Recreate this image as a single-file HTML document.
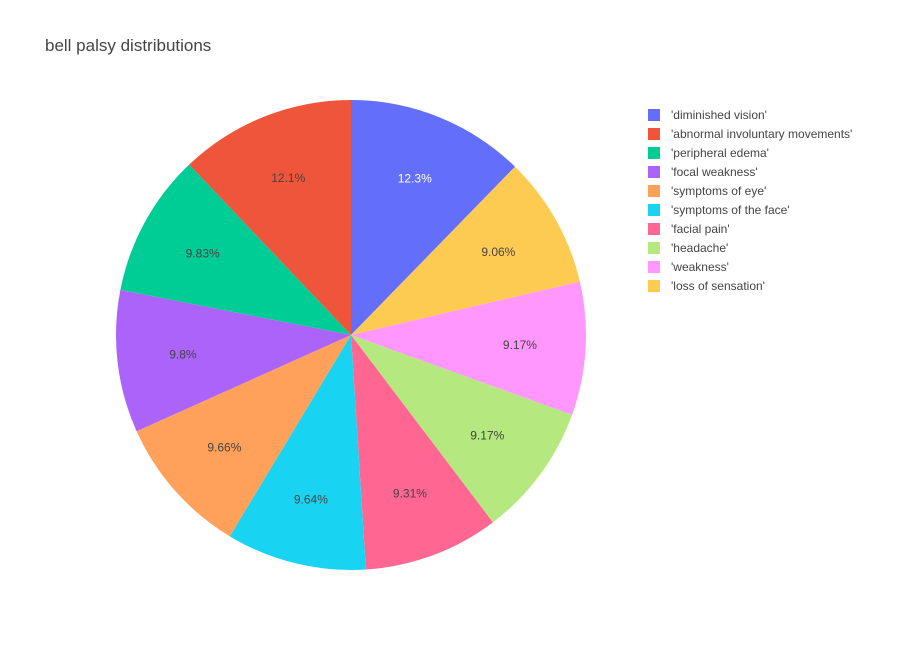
<!DOCTYPE html>
<html><head><meta charset="utf-8"><style>
body{margin:0;background:#fff;font-family:"Liberation Sans",sans-serif;}
svg text{font-family:"Liberation Sans",sans-serif;}
</style></head><body>
<svg id="chart" width="900" height="650">
<rect width="900" height="650" fill="#fff"></rect>
<text x="45" y="51" font-size="17" fill="#444">bell palsy distributions</text>
<g id="slices"></g>
<g id="legend"></g>
</svg>
<script>
const legendLabels=["'diminished vision'","'abnormal involuntary movements'","'peripheral edema'","'focal weakness'","'symptoms of eye'","'symptoms of the face'","'facial pain'","'headache'","'weakness'","'loss of sensation'"];
const legendColors=["#636efa","#EF553B","#00cc96","#ab63fa","#FFA15A","#19d3f3","#FF6692","#B6E880","#FF97FF","#FECB52"];
// clockwise from top
const sliceIndex=[0,9,8,7,6,5,4,3,2,1];
const sliceValues=[12.3,9.06,9.17,9.17,9.31,9.64,9.66,9.8,9.83,12.1];
const sliceText=["12.3%","9.06%","9.17%","9.17%","9.31%","9.64%","9.66%","9.8%","9.83%","12.1%"];
const NS="http://www.w3.org/2000/svg";
const cx=351,cy=335,r=235;
const total=sliceValues.reduce((a,b)=>a+b,0);
const sg=document.getElementById('slices');
let a0=0;
function pt(a,rr){return [cx+rr*Math.sin(a),cy-rr*Math.cos(a)];}
sliceValues.forEach((v,i)=>{
  const a1=a0+v/total*2*Math.PI;
  const p0=pt(a0,r),p1=pt(a1,r);
  const path=document.createElementNS(NS,'path');
  path.setAttribute('d',`M${cx},${cy}L${p0[0]},${p0[1]}A${r},${r} 0 ${a1-a0>Math.PI?1:0} 1 ${p1[0]},${p1[1]}Z`);
  path.setAttribute('fill',legendColors[sliceIndex[i]]);
  path.setAttribute('stroke','#fff');path.setAttribute('stroke-width','0');
  
  
  sg.appendChild(path);
  const m=pt((a0+a1)/2,r*0.72);
  const t=document.createElementNS(NS,'text');
  t.setAttribute('x',m[0]);t.setAttribute('y',m[1]+4);
  t.setAttribute('text-anchor','middle');t.setAttribute('font-size','12');
  t.setAttribute('fill',sliceIndex[i]===0?'#fff':'#444');
  t.textContent=sliceText[i];
  
  
  sg.appendChild(t);
  a0=a1;
});
const lg=document.getElementById('legend');
legendLabels.forEach((l,i)=>{
  const g=document.createElementNS(NS,'g');
  
  
  const y=115+i*19;
  const rc=document.createElementNS(NS,'rect');
  rc.setAttribute('x',648);rc.setAttribute('y',y-6);rc.setAttribute('width',12);rc.setAttribute('height',12);
  rc.setAttribute('fill',legendColors[i]);
  g.appendChild(rc);
  const t=document.createElementNS(NS,'text');
  t.setAttribute('x',671);t.setAttribute('y',y+4);t.setAttribute('font-size','12');t.setAttribute('fill','#444');
  t.textContent=l;
  g.appendChild(t);
  lg.appendChild(g);
});
</script>
</body></html>
